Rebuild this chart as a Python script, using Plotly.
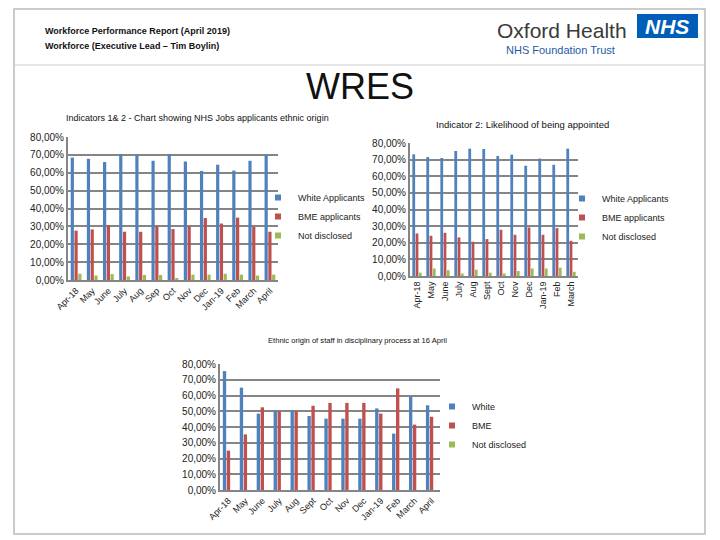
import plotly.graph_objects as go

# ---------------- data ----------------
cats1 = ["Apr-18", "May", "June", "July", "Aug", "Sep", "Oct", "Nov", "Dec", "Jan-19", "Feb", "March", "April"]
white1 = [68.5, 67.8, 66.0, 70.4, 70.0, 66.7, 70.4, 66.3, 61.0, 64.5, 61.2, 66.7, 70.0]
bme1 = [27.6, 28.3, 30.7, 27.0, 27.0, 30.1, 28.5, 30.1, 34.7, 31.6, 34.9, 29.8, 27.0]
nd1 = [3.5, 2.5, 3.3, 2.0, 2.8, 2.8, 1.0, 3.0, 3.0, 3.5, 3.0, 2.5, 3.0]

cats2 = ["Apr-18", "May", "June", "July", "Aug", "Sept", "Oct", "Nov", "Dec", "Jan-19", "Feb", "March"]
white2 = [73.2, 71.6, 71.0, 75.2, 76.6, 76.4, 72.2, 73.0, 66.3, 70.6, 66.9, 76.6]
bme2 = [25.6, 24.2, 26.0, 23.2, 20.6, 22.2, 27.8, 24.8, 29.2, 24.8, 28.8, 21.2]
nd2 = [2.0, 4.5, 3.5, 1.5, 3.8, 2.0, 1.5, 3.0, 4.5, 4.5, 5.0, 2.5]

cats3 = ["Apr-18", "May", "June", "July", "Aug", "Sept", "Oct", "Nov", "Dec", "Jan-19", "Feb", "March", "April"]
white3 = [75.5, 65.0, 48.5, 50.5, 50.5, 47.0, 45.3, 45.3, 45.3, 51.8, 35.8, 59.2, 53.8]
bme3 = [25.0, 35.3, 52.5, 50.0, 50.0, 53.5, 55.3, 55.3, 55.3, 48.5, 64.5, 41.5, 46.5]
nd3 = [0, 0, 0, 0, 0, 0, 0, 0, 0, 0, 0, 0, 0]

tick_vals = [0, 10, 20, 30, 40, 50, 60, 70, 80]
tick_text = ["0,00%", "10,00%", "20,00%", "30,00%", "40,00%", "50,00%", "60,00%", "70,00%", "80,00%"]

BLUE, RED, GREEN = "#4F81BD", "#C0504D", "#9BBB59"
GRID = "#858585"
FONT = "Liberation Sans, Arial, sans-serif"

W, H = 720, 540
def px_x(a, b):
    return [a / W, b / W]
def px_y(top, bottom):
    return [1 - bottom / H, 1 - top / H]

fig = go.Figure()

def add_chart(idx, cats, series, names, legend):
    xa = "x" if idx == 1 else f"x{idx}"
    ya = "y" if idx == 1 else f"y{idx}"
    for vals, name, col in zip(series, names, [BLUE, RED, GREEN]):
        fig.add_trace(go.Bar(x=cats, y=vals, name=name, marker_color=col,
                             marker_line_width=0, xaxis=xa, yaxis=ya,
                             showlegend=False, legendgroup=f"{legend}{name}"))
    for name, col in zip(names, [BLUE, RED, GREEN]):
        fig.add_trace(go.Scatter(x=[None], y=[None], mode="markers", name=name,
                                 marker=dict(symbol="square", size=6, color=col),
                                 xaxis=xa, yaxis=ya, legend=legend,
                                 legendgroup=f"{legend}{name}"))

add_chart(1, cats1, [white1, bme1, nd1], ["White Applicants", "BME applicants", "Not disclosed"], "legend")
add_chart(2, cats2, [white2, bme2, nd2], ["White Applicants", "BME applicants", "Not disclosed"], "legend2")
add_chart(3, cats3, [white3, bme3, nd3], ["White", "BME", "Not disclosed"], "legend3")

def yaxis_cfg(dom, anchor):
    return dict(domain=dom, range=[0, 80], tickvals=tick_vals, ticktext=tick_text,
                showgrid=True, gridcolor=GRID, gridwidth=2, showline=True,
                linecolor=GRID, linewidth=2, zeroline=False, ticks="",
                tickfont=dict(family=FONT, size=10, color="#222222"), anchor=anchor,
                automargin=False, fixedrange=True)

def xaxis_cfg(dom, anchor, angle, size):
    return dict(domain=dom, anchor=anchor, showline=True, linecolor=GRID, linewidth=2,
                tickangle=angle, ticks="", showgrid=False, automargin=False,
                tickfont=dict(family=FONT, size=size, color="#222222"))

def legend_cfg(x_px, y_px):
    return dict(x=x_px / W, y=1 - y_px / H, xanchor="left", yanchor="top",
                font=dict(family=FONT, size=9, color="#222222"), tracegroupgap=0,
                itemwidth=30, bgcolor="rgba(0,0,0,0)")

fig.update_layout(
    width=W, height=H, margin=dict(l=0, r=0, t=0, b=0, autoexpand=False),
    paper_bgcolor="white", plot_bgcolor="white",
    barmode="group", bargap=0.3, bargroupgap=0.15,
    font=dict(family=FONT, color="#222222"),
    xaxis=xaxis_cfg(px_x(68, 278), "y", -45, 9),
    yaxis=yaxis_cfg(px_y(137, 280), "x"),
    xaxis2=xaxis_cfg(px_x(410, 578), "y2", -90, 9),
    yaxis2=yaxis_cfg(px_y(143, 276), "x2"),
    xaxis3=xaxis_cfg(px_x(220, 440), "y3", -45, 9),
    yaxis3=yaxis_cfg(px_y(364, 490), "x3"),
    legend=legend_cfg(258, 183),
    legend2=legend_cfg(562, 184),
    legend3=legend_cfg(432, 392),
    showlegend=True,
)

# slide frame
fig.add_shape(type="rect", xref="paper", yref="paper", x0=14 / W, x1=705 / W,
              y0=1 - 534 / H, y1=1 - 9 / H, line=dict(color="#BBBBBB", width=1.5))
fig.add_shape(type="line", xref="paper", yref="paper", x0=14 / W, x1=705 / W,
              y0=1 - 65 / H, y1=1 - 65 / H, line=dict(color="#CCCCCC", width=1))
# NHS logo box
fig.add_shape(type="rect", xref="paper", yref="paper", x0=637 / W, x1=698 / W,
              y0=1 - 38 / H, y1=1 - 14 / H, line=dict(width=0), fillcolor="#005EB8")

def ann(text, x, y, size, color="#111111", family=FONT, xanchor="left", bold=False):
    fig.add_annotation(text=f"<b>{text}</b>" if bold else text, x=x / W, y=1 - y / H,
                       xref="paper", yref="paper", showarrow=False, xanchor=xanchor,
                       yanchor="middle", font=dict(size=size, color=color, family=family))

ann("Workforce Performance Report (April 2019)", 43, 31, 9, bold=True)
ann("Workforce (Executive Lead – Tim Boylin)", 43, 46, 9, bold=True)
ann("Oxford Health", 495, 30, 21, color="#3A3A3A")
ann("NHS Foundation Trust", 504, 50, 11, color="#1F5AA6")
ann("<i>NHS</i>", 667, 26, 21, color="white", xanchor="center", bold=True)
ann("WRES", 360, 87, 36, xanchor="center")

ann("Indicators 1& 2 - Chart showing NHS Jobs applicants ethnic origin", 64, 118, 9)
ann("Indicator 2: Likelihood of being appointed", 434, 124, 9.5)
ann("Ethnic origin of staff in disciplinary process at 16 April", 266, 340, 7.6)

fig.write_html("out.html", config={"displayModeBar": False},
               post_script="document.body.style.margin='0';")
